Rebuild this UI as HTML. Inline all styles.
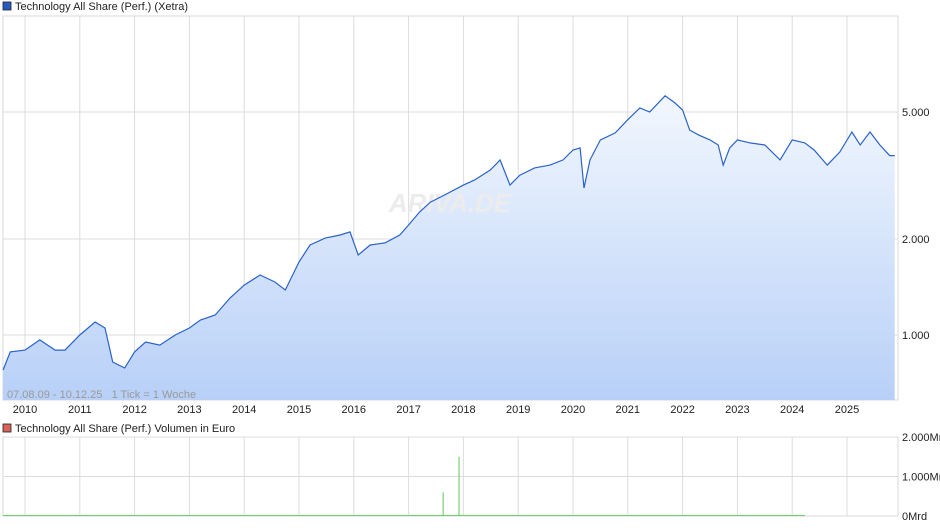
<!DOCTYPE html>
<html><head><meta charset="utf-8"><style>
body{margin:0;background:#fff;font-family:"Liberation Sans",sans-serif;}
svg text{font-family:"Liberation Sans",sans-serif;}
</style></head><body>
<svg id="c" width="940" height="526" xmlns="http://www.w3.org/2000/svg">
<defs><linearGradient id="g" x1="0" y1="0" x2="0" y2="1"><stop offset="0" stop-color="#f2f7fe"/><stop offset="1" stop-color="#b8d0f7"/></linearGradient></defs>
<rect x="3" y="16" width="895" height="384" fill="#fff" stroke="#d8d8d8"/>
<rect x="3" y="437" width="895" height="79" fill="#fff" stroke="#d8d8d8"/>
<g id="grid"></g>
<path id="area" fill="url(#g)"/>
<text x="450" y="212" font-size="26" font-weight="bold" font-style="italic" fill="#ececec" text-anchor="middle">ARIVA.DE</text>
<path id="line" fill="none" stroke="#2a62c9" stroke-width="1.2"/>
<g id="vol"></g>
<g id="labels"></g>
<rect x="3" y="2" width="8" height="8" fill="#2a5bbf" stroke="#222" stroke-width="0.8"/>
<text x="15" y="10" font-size="11" fill="#222">Technology All Share (Perf.) (Xetra)</text>
<rect x="3" y="424" width="8" height="8" fill="#d9625a" stroke="#222" stroke-width="0.8"/>
<text x="15" y="432" font-size="11" fill="#222">Technology All Share (Perf.) Volumen in Euro</text>
<text x="7" y="398" font-size="11" fill="#999" xml:space="preserve">07.08.09 - 10.12.25   1 Tick = 1 Woche</text>
</svg>
<script>
const dates=[2009.6,2009.73,2010,2010.27,2010.55,2010.73,2011,2011.28,2011.46,2011.6,2011.82,2012,2012.2,2012.46,2012.74,2013,2013.2,2013.47,2013.74,2014,2014.29,2014.56,2014.75,2015,2015.2,2015.48,2015.75,2015.93,2016.08,2016.3,2016.57,2016.84,2017,2017.2,2017.4,2017.66,2018,2018.2,2018.49,2018.67,2018.85,2019.03,2019.3,2019.58,2019.82,2020,2020.13,2020.2,2020.31,2020.5,2020.77,2021,2021.22,2021.4,2021.68,2021.86,2022,2022.13,2022.3,2022.5,2022.65,2022.74,2022.86,2023,2023.23,2023.5,2023.78,2024,2024.23,2024.4,2024.64,2024.87,2025.09,2025.24,2025.42,2025.6,2025.78,2025.87];
const prices=[777,885,897,965,897,897,1000,1098,1052,823,788,885,951,930,1000,1052,1114,1155,1306,1434,1542,1466,1384,1694,1915,2013,2058,2104,1781,1915,1944,2058,2212,2430,2610,2750,2950,3060,3290,3540,2950,3170,3340,3410,3540,3800,3860,2890,3540,4090,4300,4730,5150,5000,5620,5340,5070,4390,4230,4090,3940,3410,3860,4090,4000,3940,3540,4090,4000,3800,3410,3750,4330,3940,4330,3940,3650,3650];
const years=[2010,2011,2012,2013,2014,2015,2016,2017,2018,2019,2020,2021,2022,2023,2024,2025];
const priceTicks=[1000,2000,5000];
const priceTickLabels=["1.000","2.000","5.000"];
const volDates=[2017.63,2017.92];
const volValues=[0.6,1.5];
const volTicks=[0,1,2];
const volTickLabels=["0Mrd","1.000Mrd","2.000Mrd"];
const NS="http://www.w3.org/2000/svg";
const X=y=>25+(y-2010)*54.8;
const Y=v=>335-319*Math.log10(v/1000);
const VY=v=>516-39.5*v;
function el(t,a,p){const e=document.createElementNS(NS,t);for(const k in a)e.setAttribute(k,a[k]);document.getElementById(p).appendChild(e);return e;}
years.forEach(y=>{
 let l=el('line',{x1:X(y),x2:X(y),y1:16,y2:400,stroke:'#dcdcdc'},'grid');
 
 
 let l2=el('line',{x1:X(y),x2:X(y),y1:437,y2:516,stroke:'#dcdcdc'},'grid');
 
 
 let t=el('text',{x:X(y),y:413,'font-size':11,'text-anchor':'middle',fill:'#222'},'labels');t.textContent=y;
 
 
});
priceTicks.forEach((v,i)=>{
 let l=el('line',{x1:3,x2:898,y1:Y(v),y2:Y(v),stroke:'#dcdcdc'},'grid');
 
 
 let t=el('text',{x:902,y:Y(v)+4,'font-size':11,fill:'#222'},'labels');t.textContent=priceTickLabels[i];
 
 
});
volTicks.forEach((v,i)=>{
 if(v>0){let l=el('line',{x1:3,x2:898,y1:VY(v),y2:VY(v),stroke:'#dcdcdc'},'grid');
 
 }
 let t=el('text',{x:902,y:VY(v)+4,'font-size':11,fill:'#222'},'labels');t.textContent=volTickLabels[i];
 
 
});
let d=dates.map((x,i)=>(i?'L':'M')+X(x).toFixed(1)+','+Y(prices[i]).toFixed(1)).join('');
document.getElementById('line').setAttribute('d',d);
document.getElementById('area').setAttribute('d',d+'L'+X(dates[dates.length-1]).toFixed(1)+',400L'+X(dates[0]).toFixed(1)+',400Z');
let b=el('line',{x1:3,x2:805,y1:515.5,y2:515.5,stroke:'#6cd06c','stroke-width':1},'vol');


volDates.forEach((x,i)=>{
 let l=el('line',{x1:X(x),x2:X(x),y1:516,y2:VY(volValues[i]),stroke:'#5cc85c','stroke-width':1},'vol');
 
 
});
</script>
</body></html>
